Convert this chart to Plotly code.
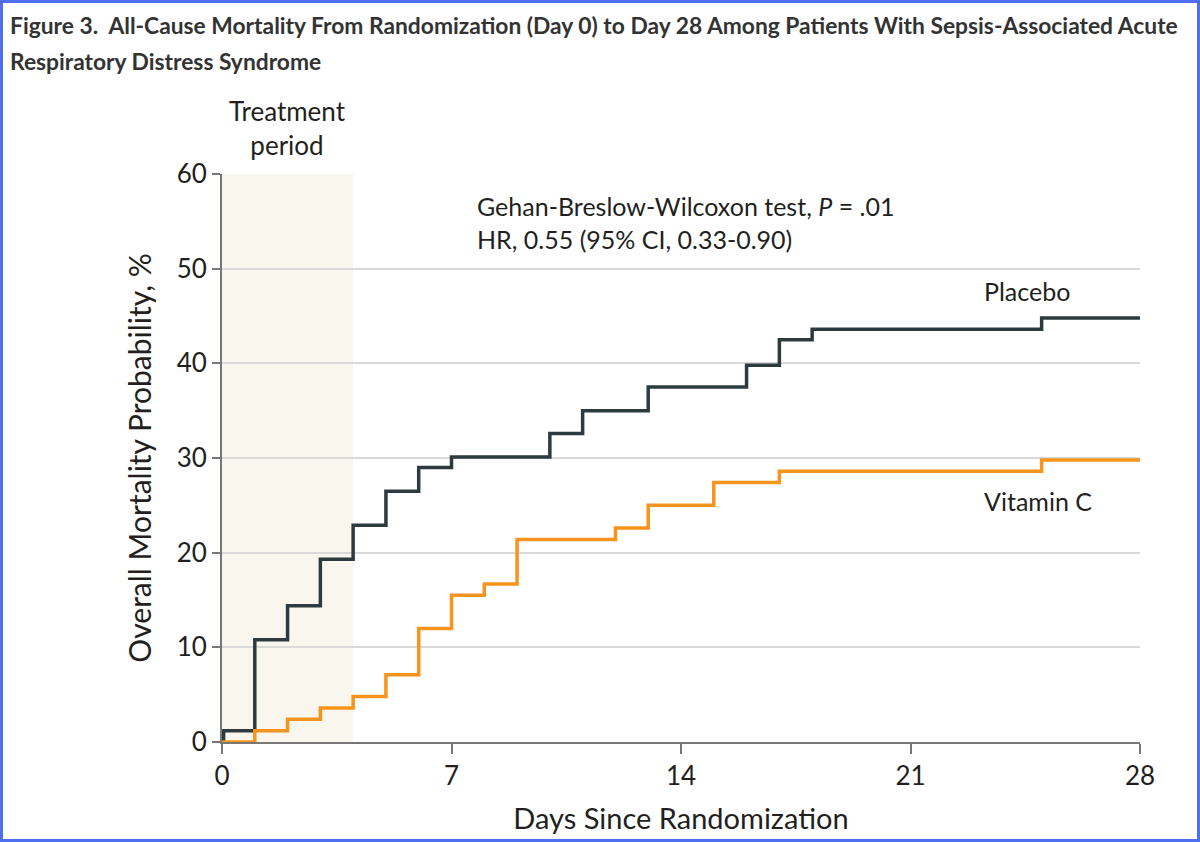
import plotly.graph_objects as go

# ---- data ----
placebo_days = [0, 0.05, 1, 2, 3, 4, 5, 6, 7, 10, 11, 13, 16, 17, 18, 25, 28]
placebo_mort = [0, 1.2, 10.8, 14.4, 19.3, 22.9, 26.5, 29.0, 30.1, 32.6, 35.0, 37.5, 39.8, 42.5, 43.6, 44.8, 44.8]
vitc_days = [0, 1, 2, 3, 4, 5, 6, 7, 8, 9, 12, 13, 15, 17, 25, 28]
vitc_mort = [0, 1.2, 2.4, 3.6, 4.8, 7.1, 12.0, 15.5, 16.7, 21.4, 22.6, 25.0, 27.4, 28.6, 29.8, 29.8]
x_ticks = [0, 7, 14, 21, 28]
y_ticks = [0, 10, 20, 30, 40, 50, 60]
treatment_period = [0, 4]

W, H = 1200, 842
L, R, T, B = 222, 1140, 174, 742


def px(x):
    return (x - L) / (R - L)


def py(y):
    return (B - y) / (B - T)


FONT = "Lato, Open Sans, sans-serif"
TXT = "#231f20"
PLACEBO = "#2d3b40"
ORANGE = "#f7941d"

fig = go.Figure()

fig.add_trace(go.Scatter(x=placebo_days, y=placebo_mort, mode="lines", line_shape="hv",
                         line=dict(color=PLACEBO, width=3.5), name="Placebo",
                         showlegend=False, hoverinfo="skip"))
fig.add_trace(go.Scatter(x=vitc_days, y=vitc_mort, mode="lines", line_shape="hv",
                         line=dict(color=ORANGE, width=3.5), name="Vitamin C",
                         showlegend=False, hoverinfo="skip"))

shapes = [
    dict(type="rect", xref="x", yref="y", x0=treatment_period[0], x1=treatment_period[1],
         y0=0, y1=60, fillcolor="#f9f7ed", line=dict(width=0), layer="below"),
    dict(type="rect", xref="paper", yref="paper", x0=px(1.5), x1=px(W - 1.5),
         y0=py(H - 1.5), y1=py(1.5), line=dict(color="#4d6ff0", width=3),
         fillcolor="rgba(0,0,0,0)"),
]

TITLE_FONT = dict(family="Lato, sans-serif", size=22.8, color="#333333")
annotations = [
    dict(text="<b>Figure 3.  All-Cause Mortality From Randomization (Day 0) to Day 28 Among Patients With Sepsis-Associated Acute</b>",
         x=px(8), y=py(25), xref="paper", yref="paper", xanchor="left", yanchor="middle",
         showarrow=False, font=TITLE_FONT),
    dict(text="<b>Respiratory Distress Syndrome</b>",
         x=px(8), y=py(61), xref="paper", yref="paper", xanchor="left", yanchor="middle",
         showarrow=False, font=TITLE_FONT),
    dict(text="Treatment<br>period", x=2, y=py(128), xref="x", yref="paper",
         xanchor="center", yanchor="middle", showarrow=False, align="center",
         font=dict(family=FONT, size=26, color=TXT)),
    dict(text="Gehan-Breslow-Wilcoxon test, <i>P</i> = .01<br>HR, 0.55 (95% CI, 0.33-0.90)",
         x=px(475), y=py(222), xref="paper", yref="paper", xanchor="left", yanchor="middle",
         showarrow=False, align="left", font=dict(family=FONT, size=25, color=TXT)),
    dict(text="Placebo", x=px(982), y=py(291), xref="paper", yref="paper",
         xanchor="left", yanchor="middle", showarrow=False,
         font=dict(family=FONT, size=25, color=TXT)),
    dict(text="Vitamin C", x=px(982), y=py(501), xref="paper", yref="paper",
         xanchor="left", yanchor="middle", showarrow=False,
         font=dict(family=FONT, size=25, color=TXT)),
]

fig.update_layout(
    width=W, height=H,
    margin=dict(l=L, r=W - R, t=T, b=H - B, pad=0),
    paper_bgcolor="white", plot_bgcolor="white",
    shapes=shapes, annotations=annotations,
    font=dict(family=FONT, color=TXT),
    showlegend=False,
)

fig.update_xaxes(range=[0, 28], tickvals=x_ticks, ticktext=[str(v) for v in x_ticks],
                 showgrid=False, zeroline=False, showline=True, linecolor="#777777", linewidth=2,
                 ticks="outside", ticklen=10, tickwidth=2, tickcolor="#777777",
                 tickfont=dict(family=FONT, size=26, color=TXT),
                 title=dict(text="Days Since Randomization", font=dict(family=FONT, size=29, color=TXT),
                            standoff=18))
fig.update_yaxes(range=[0, 60], tickvals=y_ticks, ticktext=[str(v) for v in y_ticks],
                 showgrid=True, gridcolor="#d9d9d9", gridwidth=2, zeroline=False,
                 showline=True, linecolor="#777777", linewidth=2,
                 ticks="outside", ticklen=8, tickwidth=2, tickcolor="#777777",
                 tickfont=dict(family=FONT, size=26, color=TXT),
                 title=dict(text="Overall Mortality Probability, %", font=dict(family=FONT, size=30, color=TXT),
                            standoff=16))

fig.write_html("out.html", config={"displayModeBar": False},
               post_script="document.body.style.margin='0';document.body.style.padding='0';")
